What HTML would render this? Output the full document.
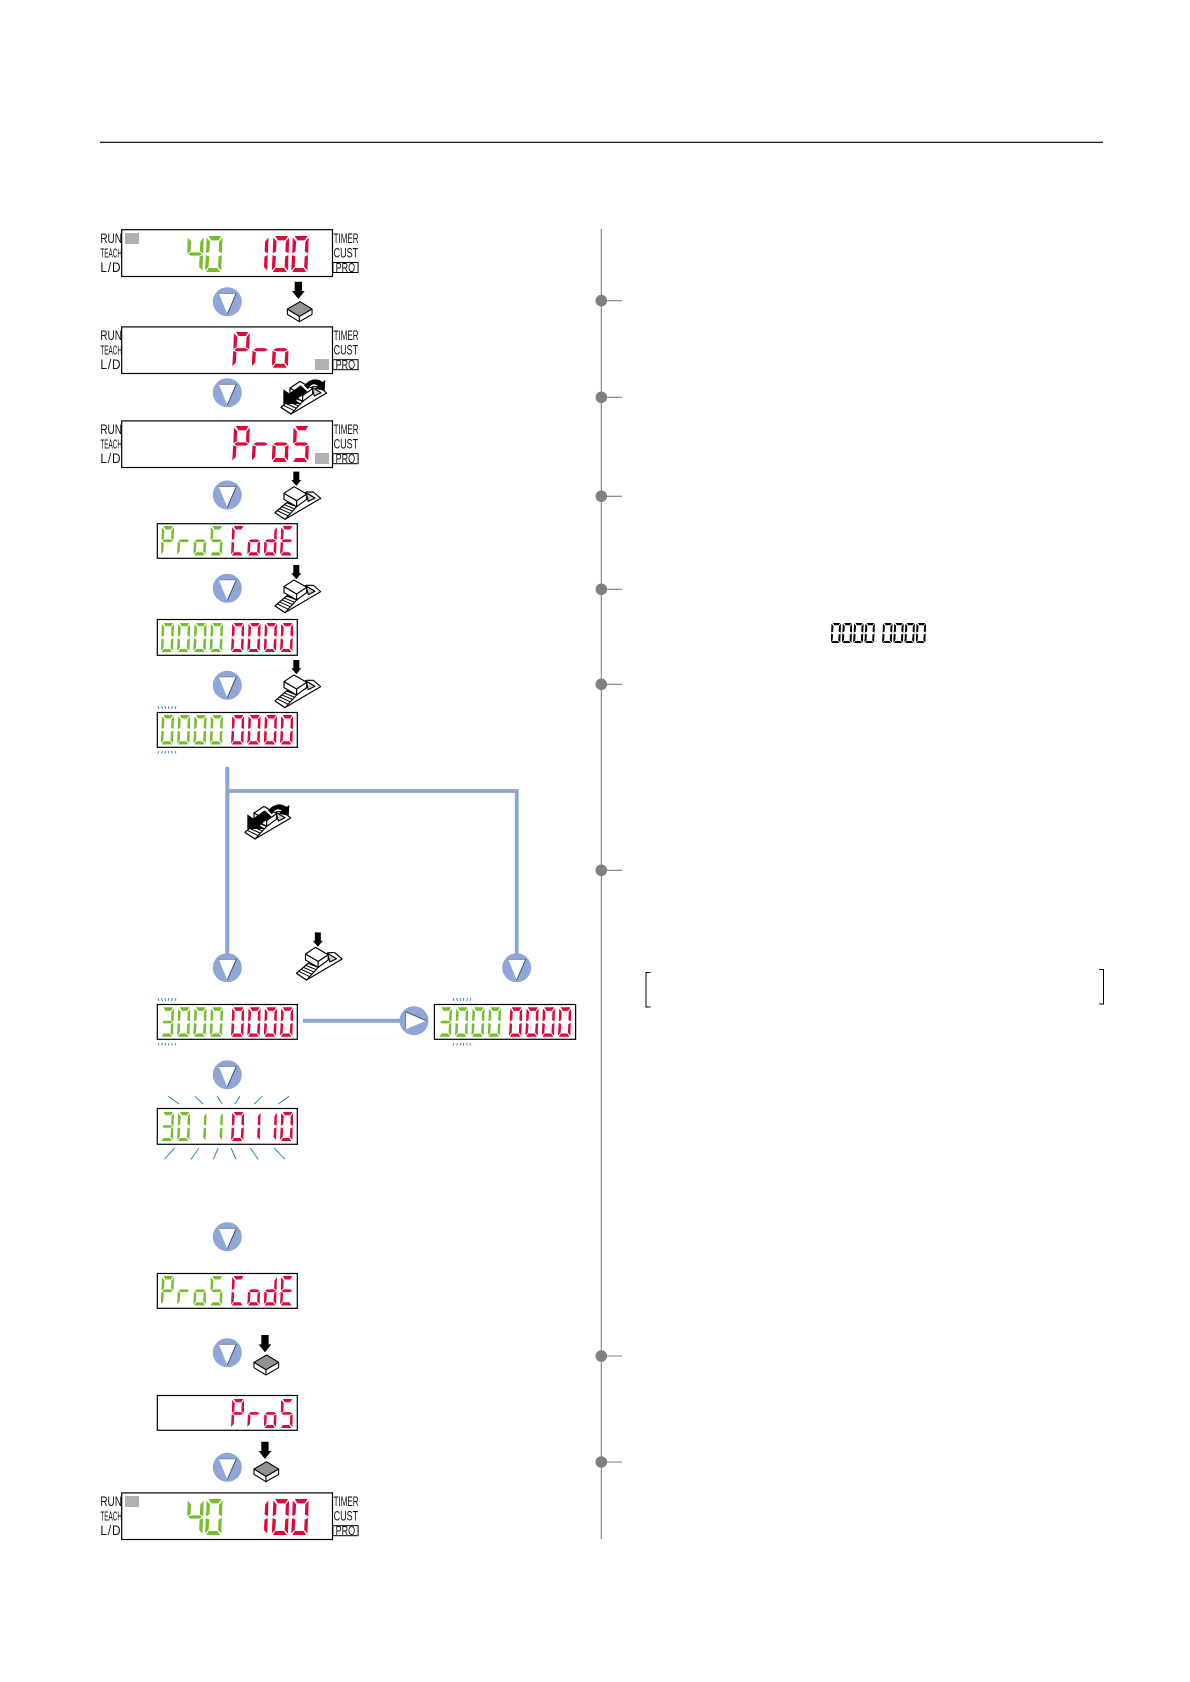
<!DOCTYPE html>
<html><head><meta charset="utf-8"><title>Program code setting procedure</title>
<style>
html,body{margin:0;padding:0;background:#fff}
#r{position:relative;width:1190px;height:1682px;overflow:hidden;background:#fff;font-family:"Liberation Sans",sans-serif}
#r svg{position:absolute;left:0;top:0}
.row{position:absolute;left:0;width:0;height:0}
.row b{position:absolute;top:0;display:block;color:transparent;font-size:8px;line-height:8px;overflow:hidden;font-weight:400}
.big{width:17.5px;height:36px}
.p{width:13.3px;height:29.5px}
.t{width:10.5px;height:20.5px}
.g{background:#78bd2f}.e{background:#dc0a3c}.k{background:#000}
.x1{left:160.7px}.x2{left:177px}.x3{left:193.3px}.x4{left:209.7px}
.x5{left:231px}.x6{left:247.3px}.x7{left:263.7px}.x8{left:280px}
:root{
--a:0 0,20% 0,93% 0,78% 12%,36% 12%,20% 0,0 0;
--f:0 0,9% 4%,28% 15%,25% 43%,6% 48%,9% 4%,0 0;
--b:0 0,100% 4%,97% 48%,78% 43%,81% 15%,100% 4%,0 0;
--m:0 0,10% 50%,27% 45.5%,76% 45.5%,93% 50%,75% 54.5%,25% 54.5%,10% 50%,0 0;
--l:0 0,5% 53%,24% 57%,20% 86%,0 96%,5% 53%,0 0;
--c:0 0,96% 53%,93% 96%,74% 86%,77% 57%,96% 53%,0 0;
--d:0 0,21% 89%,71% 89%,86% 100%,6% 100%,21% 89%,0 0}
.z0{clip-path:polygon(var(--a),var(--b),var(--c),var(--d),var(--l),var(--f))}
.z1{clip-path:polygon(var(--b),var(--c))}
.z3{clip-path:polygon(var(--a),var(--b),var(--m),var(--c),var(--d))}
.z4{clip-path:polygon(var(--f),var(--b),var(--m),var(--c))}
.zP{clip-path:polygon(var(--a),var(--b),var(--f),var(--m),var(--l))}
.zr{clip-path:polygon(var(--m),var(--l))}
.zo{clip-path:polygon(var(--m),var(--l),var(--c),var(--d))}
.zS{clip-path:polygon(var(--a),var(--f),var(--m),var(--c),var(--d))}
.zC{clip-path:polygon(var(--a),var(--f),var(--l),var(--d))}
.zd{clip-path:polygon(var(--b),var(--m),var(--l),var(--c),var(--d))}
.zE{clip-path:polygon(var(--a),var(--f),var(--m),var(--l),var(--d))}
</style></head><body><div id="r">
<svg width="1190" height="1682" viewBox="0 0 1190 1682" xmlns="http://www.w3.org/2000/svg">
<defs>
<g id="tri"><circle r="14.5" fill="#8ea7d6"/><polygon points="-8.5,-8.4 9,-8.4 0,12.3" fill="#fff"/><line x1="-8.5" y1="-8.4" x2="9" y2="-8.4" stroke="#6f7890" stroke-width=".8"/><line x1="9" y1="-8.4" x2="0" y2="12.3" stroke="#3c4660" stroke-width=".9"/></g>
<g id="body" transform="scale(.3333)" stroke="#000" stroke-width="3.4" stroke-linejoin="round">
<polygon points="110,66 130,66 152,85 45,148 15,128 50,98" fill="#fff"/>
<polygon points="108,68 135,84 115,94" fill="#ccc"/>
<polygon points="15,128 50,98 80,110 45,148" fill="#fff"/>
<path d="M22,122 L55,138 M29,116 L62,131 M36,110 L68,124 M43,104 L74,117" fill="none" stroke-width="3"/>
<polygon points="42,70 42,88 80,110 80,92" fill="#fff"/>
<polygon points="80,92 110,72 110,88 80,110" fill="#fff"/>
<polygon points="42,70 72,50 110,72 80,92" fill="#fff"/>
</g>
<g id="press"><use href="#body"/><polygon transform="scale(.3333)" points="70,5 88,5 88,30 94,30 79,48 64,30 70,30" fill="#000"/></g>
<g id="pull"><use href="#body"/><g transform="scale(.3333)" fill="#000"><polygon points="22,118 22,74 40,86 74,62 94,80 60,106 72,118"/><path d="M84,62 Q112,32 140,52 L148,46 L146,78 L116,72 L126,64 Q108,50 96,74 Z"/></g></g>
<g id="btn" transform="scale(.3333)" stroke="#000" stroke-width="3.2" stroke-linejoin="round">
<polygon points="24,0 46,0 46,28 54,28 35,52 16,28 24,28" fill="#000" stroke="none"/>
<polygon points="2,82 2,98 38,120 38,104" fill="#fff"/>
<polygon points="38,104 38,120 76,98 76,82" fill="#fff"/>
<polygon points="2,82 40,60 76,82 38,104" fill="#929292"/>
</g>
<g id="tt" stroke="#2a86bb" stroke-width=".9"><path d="M158,706 L159,709 M161.5,706 L162.5,709 M165,706 L165.7,709 M168.8,706 L168.2,709 M172.5,706 L171.5,709 M176,706 L175,709" fill="none"/></g>
<g id="tb" stroke="#2a86bb" stroke-width=".9"><path d="M158,753.5 L159,751 M161.5,753.5 L162.5,751 M165,753.5 L165.7,751 M168.8,753.5 L168.2,751 M172.5,753.5 L171.5,751 M176,753.5 L175,751" fill="none"/></g>
</defs>

<line x1="100" y1="142.3" x2="1103" y2="142.3" stroke="#000" stroke-width="1.2"/>

<!-- right timeline -->
<g stroke="#7f7f7f" stroke-width="1.1" fill="none">
<line x1="601.3" y1="229" x2="601.3" y2="1539"/>
<path d="M601,300.7H622M601,397.3H622M601,496.3H622M601,589.3H622M601,684.3H622M601,870.3H622M601,1356H622M601,1462H622"/>
</g>
<g fill="#808080">
<circle cx="601.3" cy="300.7" r="5.8"/><circle cx="601.3" cy="397.3" r="5.8"/><circle cx="601.3" cy="496.3" r="5.8"/><circle cx="601.3" cy="589.3" r="5.8"/><circle cx="601.3" cy="684.3" r="5.8"/><circle cx="601.3" cy="870.3" r="5.8"/><circle cx="601.3" cy="1356" r="5.8"/><circle cx="601.3" cy="1462" r="5.8"/>
</g>

<!-- brackets -->
<path d="M650.5,972.5H646V1007H650.5" fill="none" stroke="#000" stroke-width="1"/>
<path d="M1099,969.5H1103.5V1004H1099" fill="none" stroke="#000" stroke-width="1"/>

<!-- connectors -->
<g stroke="#8aa5d3" fill="none">
<path d="M227.3,767V955" stroke-width="4"/>
<path d="M227.3,791H516.7V955" stroke-width="3.8"/>
<path d="M303,1020.7H402" stroke-width="4"/>
</g>

<!-- displays -->
<g fill="#fff" stroke="#000" stroke-width="1.2">
<rect x="121.7" y="229.7" width="210.8" height="46.8"/>
<rect x="121.7" y="326.9" width="210.8" height="46.6"/>
<rect x="121.7" y="420.9" width="210.8" height="46.6"/>
<rect x="121.7" y="1492.9" width="210.8" height="46.6"/>
<rect x="157.3" y="523.7" width="140" height="34.6"/>
<rect x="157.3" y="619.5" width="140" height="35.8"/>
<rect x="157.3" y="712.5" width="140" height="34.8"/>
<rect x="157.3" y="1004.5" width="140" height="34.8"/>
<rect x="434.4" y="1004.5" width="141.2" height="34.8"/>
<rect x="157.3" y="1108.5" width="140" height="35.8"/>
<rect x="157.3" y="1273.5" width="140" height="34.8"/>
<rect x="157.3" y="1395.5" width="140" height="34.8"/>
</g>
<g fill="#b0b0b0">
<rect x="125" y="233" width="14" height="11"/><rect x="315" y="359" width="14" height="11"/><rect x="315" y="453" width="14" height="11"/><rect x="125" y="1496" width="14" height="11"/>
</g>

<!-- side labels -->
<g font-family="'Liberation Sans',sans-serif" fill="#111" font-size="14">
<g>
<text x="100.4" y="243" textLength="21.5" lengthAdjust="spacingAndGlyphs">RUN</text><text x="100.4" y="257.5" textLength="21.5" lengthAdjust="spacingAndGlyphs" font-size="13">TEACH</text><text x="100.4" y="272" textLength="21" lengthAdjust="spacingAndGlyphs" letter-spacing="1">L/D</text>
<text x="333.6" y="243" textLength="25" lengthAdjust="spacingAndGlyphs">TIMER</text><text x="333.6" y="257.5" textLength="24.5" lengthAdjust="spacingAndGlyphs">CUST</text><rect x="332.9" y="262.5" width="25.2" height="10" fill="#fff" stroke="#000" stroke-width="1"/><text x="335.6" y="271.8" textLength="19.5" lengthAdjust="spacingAndGlyphs" font-size="13">PRO</text>
</g>
<g transform="translate(0,97.2)">
<text x="100.4" y="243" textLength="21.5" lengthAdjust="spacingAndGlyphs">RUN</text><text x="100.4" y="257.5" textLength="21.5" lengthAdjust="spacingAndGlyphs" font-size="13">TEACH</text><text x="100.4" y="272" textLength="21" lengthAdjust="spacingAndGlyphs" letter-spacing="1">L/D</text>
<text x="333.6" y="243" textLength="25" lengthAdjust="spacingAndGlyphs">TIMER</text><text x="333.6" y="257.5" textLength="24.5" lengthAdjust="spacingAndGlyphs">CUST</text><rect x="332.9" y="262.5" width="25.2" height="10" fill="#fff" stroke="#000" stroke-width="1"/><text x="335.6" y="271.8" textLength="19.5" lengthAdjust="spacingAndGlyphs" font-size="13">PRO</text>
</g>
<g transform="translate(0,191.2)">
<text x="100.4" y="243" textLength="21.5" lengthAdjust="spacingAndGlyphs">RUN</text><text x="100.4" y="257.5" textLength="21.5" lengthAdjust="spacingAndGlyphs" font-size="13">TEACH</text><text x="100.4" y="272" textLength="21" lengthAdjust="spacingAndGlyphs" letter-spacing="1">L/D</text>
<text x="333.6" y="243" textLength="25" lengthAdjust="spacingAndGlyphs">TIMER</text><text x="333.6" y="257.5" textLength="24.5" lengthAdjust="spacingAndGlyphs">CUST</text><rect x="332.9" y="262.5" width="25.2" height="10" fill="#fff" stroke="#000" stroke-width="1"/><text x="335.6" y="271.8" textLength="19.5" lengthAdjust="spacingAndGlyphs" font-size="13">PRO</text>
</g>
<g transform="translate(0,1263.2)">
<text x="100.4" y="243" textLength="21.5" lengthAdjust="spacingAndGlyphs">RUN</text><text x="100.4" y="257.5" textLength="21.5" lengthAdjust="spacingAndGlyphs" font-size="13">TEACH</text><text x="100.4" y="272" textLength="21" lengthAdjust="spacingAndGlyphs" letter-spacing="1">L/D</text>
<text x="333.6" y="243" textLength="25" lengthAdjust="spacingAndGlyphs">TIMER</text><text x="333.6" y="257.5" textLength="24.5" lengthAdjust="spacingAndGlyphs">CUST</text><rect x="332.9" y="262.5" width="25.2" height="10" fill="#fff" stroke="#000" stroke-width="1"/><text x="335.6" y="271.8" textLength="19.5" lengthAdjust="spacingAndGlyphs" font-size="13">PRO</text>
</g>
</g>

<!-- flow markers -->
<use href="#tri" x="227.3" y="301.7"/>
<use href="#tri" x="227.3" y="392.7"/>
<use href="#tri" x="227.3" y="495"/>
<use href="#tri" x="227.3" y="588.3"/>
<use href="#tri" x="227.3" y="685.3"/>
<use href="#tri" x="227.3" y="967.7"/>
<use href="#tri" x="516.7" y="967.7"/>
<use href="#tri" x="0" y="0" transform="translate(414,1020.7) rotate(-90)"/>
<use href="#tri" x="227.3" y="1074.7"/>
<use href="#tri" x="227.3" y="1236.7"/>
<use href="#tri" x="227.3" y="1352.7"/>
<use href="#tri" x="227.3" y="1467.3"/>

<!-- icons -->
<use href="#btn" x="286.7" y="281.7"/>
<use href="#pull" x="276" y="364.7"/>
<use href="#press" x="270" y="470"/>
<use href="#press" x="270" y="563.3"/>
<use href="#press" x="270" y="658.3"/>
<use href="#pull" x="240" y="789.7"/>
<use href="#press" x="291.5" y="930.7"/>
<use href="#btn" x="253.3" y="1335"/>
<use href="#btn" x="253.3" y="1441.7"/>

<!-- blink marks -->
<use href="#tt"/><use href="#tb"/>
<use href="#tt" y="292"/><use href="#tb" y="292"/>
<use href="#tt" x="295" y="292"/><use href="#tb" x="295" y="292"/>
<g stroke="#2a86bb" stroke-width="1" fill="none">
<path d="M168.3,1096.3L179,1104M195,1096.3L203,1104M217.3,1096.3L222.3,1104M240,1096.3L235,1104M262.3,1096.3L254.3,1104M289,1096.3L278.3,1104"/>
<path d="M174.7,1148L164.3,1159.3M199,1148L191,1159.3M218.3,1148L213.3,1159.3M231,1148L236,1159.3M250.3,1148L258.3,1159.3M274,1148L285,1159.3"/>
</g>
</svg>

<!-- top display: 40 100 -->
<div class="row" style="top:236px"><b class="big g z4" style="left:186.2px">4</b><b class="big g z0" style="left:205px">0</b><b class="big e z1" style="left:251px">1</b><b class="big e z0" style="left:271.7px">0</b><b class="big e z0" style="left:291.2px">0</b></div>
<div class="row" style="top:331.7px"><b class="big e zP" style="left:232.3px">P</b><b class="big e zr" style="left:251.7px">r</b><b class="big e zo" style="left:271.7px">o</b></div>
<div class="row" style="top:426px"><b class="big e zP" style="left:232.3px">P</b><b class="big e zr" style="left:251.7px">r</b><b class="big e zo" style="left:271.7px">o</b><b class="big e zS" style="left:292px">S</b></div>
<div class="row" style="top:1499px"><b class="big g z4" style="left:186.2px">4</b><b class="big g z0" style="left:205px">0</b><b class="big e z1" style="left:251px">1</b><b class="big e z0" style="left:271.7px">0</b><b class="big e z0" style="left:291.2px">0</b></div>

<!-- panels -->
<div class="row" style="top:526px"><b class="p g zP x1">P</b><b class="p g zr x2">r</b><b class="p g zo x3">o</b><b class="p g zS x4">S</b><b class="p e zC x5">C</b><b class="p e zo x6">o</b><b class="p e zd x7">d</b><b class="p e zE x8">E</b></div>
<div class="row" style="top:622.7px"><b class="p g z0 x1">0</b><b class="p g z0 x2">0</b><b class="p g z0 x3">0</b><b class="p g z0 x4">0</b><b class="p e z0 x5">0</b><b class="p e z0 x6">0</b><b class="p e z0 x7">0</b><b class="p e z0 x8">0</b></div>
<div class="row" style="top:715px"><b class="p g z0 x1">0</b><b class="p g z0 x2">0</b><b class="p g z0 x3">0</b><b class="p g z0 x4">0</b><b class="p e z0 x5">0</b><b class="p e z0 x6">0</b><b class="p e z0 x7">0</b><b class="p e z0 x8">0</b></div>
<div class="row" style="top:1007.3px"><b class="p g z3 x1">3</b><b class="p g z0 x2">0</b><b class="p g z0 x3">0</b><b class="p g z0 x4">0</b><b class="p e z0 x5">0</b><b class="p e z0 x6">0</b><b class="p e z0 x7">0</b><b class="p e z0 x8">0</b></div>
<div class="row" style="top:1007.3px;left:278px"><b class="p g z3 x1">3</b><b class="p g z0 x2">0</b><b class="p g z0 x3">0</b><b class="p g z0 x4">0</b><b class="p e z0 x5">0</b><b class="p e z0 x6">0</b><b class="p e z0 x7">0</b><b class="p e z0 x8">0</b></div>
<div class="row" style="top:1111.7px"><b class="p g z3 x1">3</b><b class="p g z0 x2">0</b><b class="p g z1 x3">1</b><b class="p g z1 x4">1</b><b class="p e z0 x5">0</b><b class="p e z1 x6">1</b><b class="p e z1 x7">1</b><b class="p e z0 x8">0</b></div>
<div class="row" style="top:1276px"><b class="p g zP x1">P</b><b class="p g zr x2">r</b><b class="p g zo x3">o</b><b class="p g zS x4">S</b><b class="p e zC x5">C</b><b class="p e zo x6">o</b><b class="p e zd x7">d</b><b class="p e zE x8">E</b></div>
<div class="row" style="top:1398.7px"><b class="p e zP x5">P</b><b class="p e zr x6">r</b><b class="p e zo x7">o</b><b class="p e zS x8">S</b></div>

<!-- inline 0000 0000 -->
<div class="row" style="top:622.8px"><b class="t k z0" style="left:830.5px">0</b><b class="t k z0" style="left:841.8px">0</b><b class="t k z0" style="left:853.1px">0</b><b class="t k z0" style="left:864.4px">0</b><b class="t k z0" style="left:882px">0</b><b class="t k z0" style="left:893.2px">0</b><b class="t k z0" style="left:904.4px">0</b><b class="t k z0" style="left:915.6px">0</b></div>
</div></body></html>
